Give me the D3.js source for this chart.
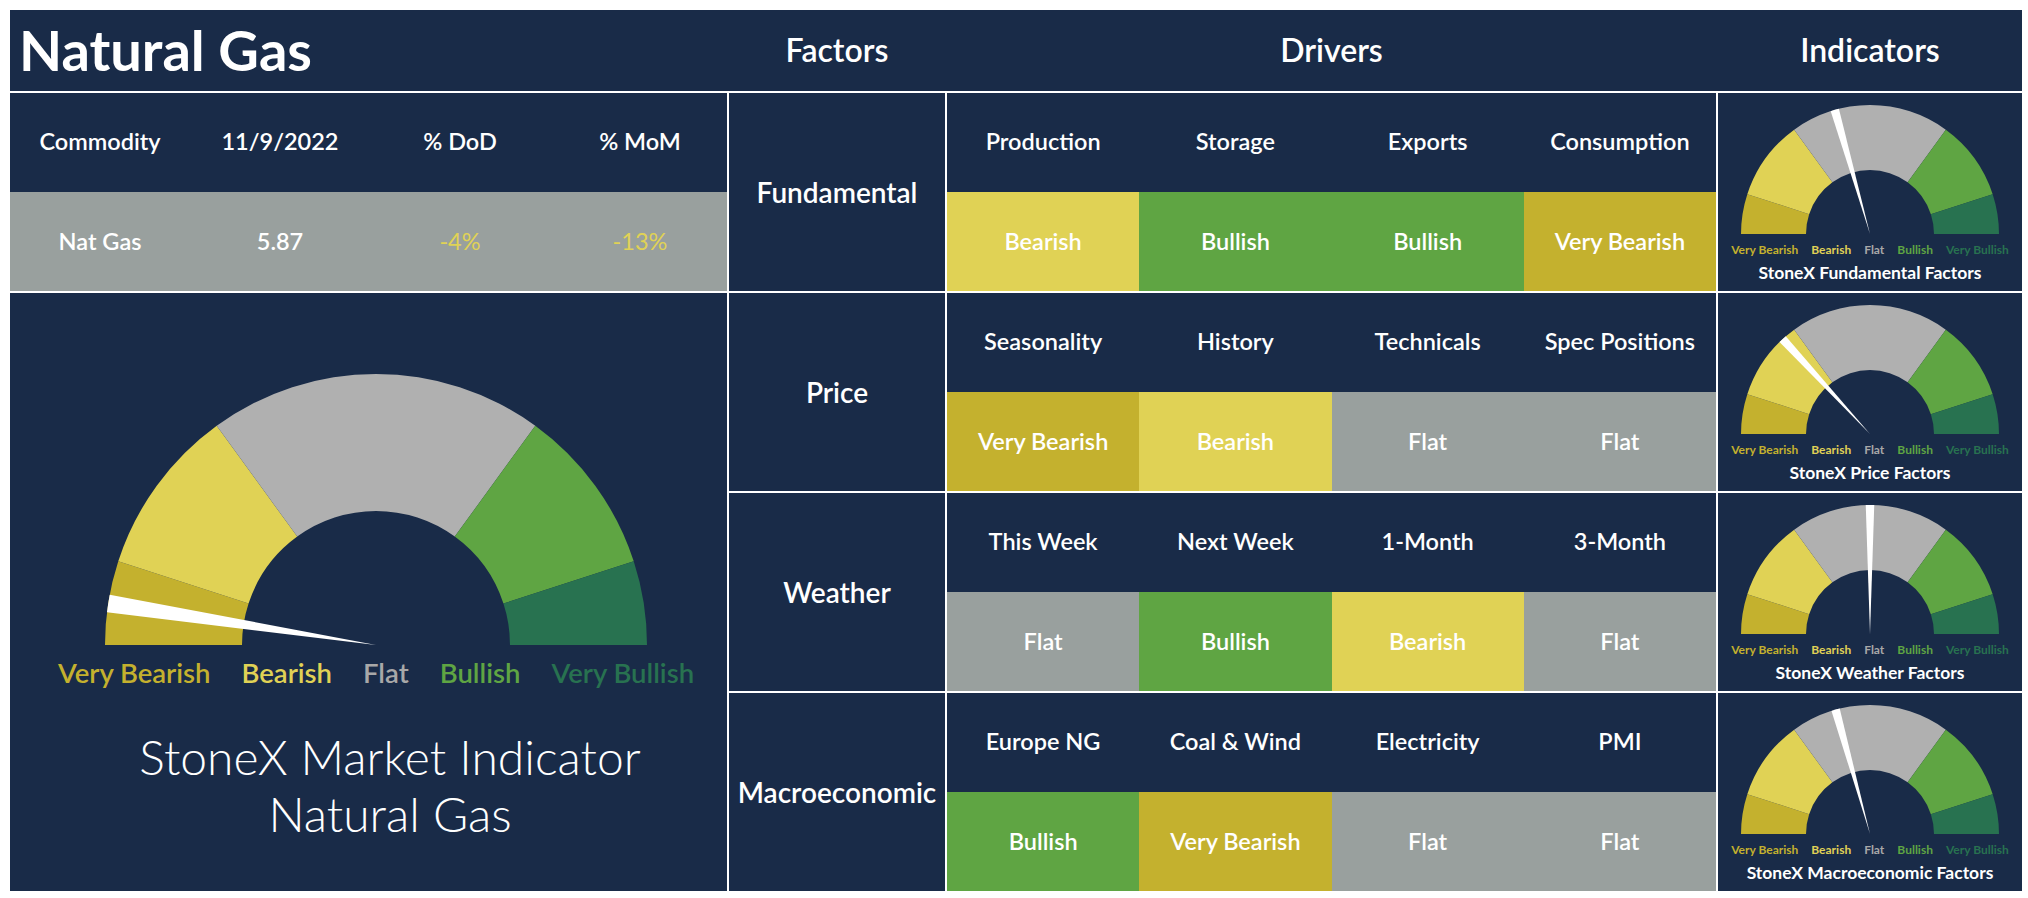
<!DOCTYPE html>
<html>
<head>
<meta charset="utf-8">
<script src="https://cdn.jsdelivr.net/npm/d3@7"></script>
<style>
  body { margin: 0; background: #fff; }
  svg { display: block; font-family: Lato, 'Open Sans', sans-serif; }
</style>
</head>
<body>
<svg id="board"></svg>
<script>
// ---- data ----
const pageTitle = "Natural Gas";
const sectionHeaders = ["Factors", "Drivers", "Indicators"];
const commodityHeaders = ["Commodity", "11/9/2022", "% DoD", "% MoM"];
const commodityValues = ["Nat Gas", "5.87", "-4%", "-13%"];
const factors = ["Fundamental", "Price", "Weather", "Macroeconomic"];
const drivers = [
    ["Production", "Storage", "Exports", "Consumption"],
    ["Seasonality", "History", "Technicals", "Spec Positions"],
    ["This Week", "Next Week", "1-Month", "3-Month"],
    ["Europe NG", "Coal & Wind", "Electricity", "PMI"]
];
const driverSignals = [
    ["Bearish", "Bullish", "Bullish", "Very Bearish"],
    ["Very Bearish", "Bearish", "Flat", "Flat"],
    ["Flat", "Bullish", "Bearish", "Flat"],
    ["Bullish", "Very Bearish", "Flat", "Flat"]
];
const signalLevels = ["Very Bearish", "Bearish", "Flat", "Bullish", "Very Bullish"];
const bandShares = [10, 20, 40, 20, 10];          // gauge bands, % of the half circle
const marketNeedle = 4.9;                         // 0..100 along the gauge
const factorNeedles = [41.2, 26.3, 50, 41.4];
const indicatorTitles = ["StoneX Fundamental Factors", "StoneX Price Factors",
                         "StoneX Weather Factors", "StoneX Macroeconomic Factors"];
const marketTitle = ["StoneX Market Indicator", "Natural Gas"];

// ---- style ----
const W = 2028, H = 898;
const NAVY = "#192b48";
const GRAY = "#99a09e";
const bandColors = ["#c4b12e", "#e0d255", "#b0b0b0", "#5fa543", "#287250"];
const labelColors = ["#c4b12e", "#e0d255", "#a8a8a8", "#5fa543", "#287250"];
const cellColor = d3.scaleOrdinal()
    .domain(signalLevels)
    .range(["#c4b12e", "#e0d255", GRAY, "#5fa543", "#287250"]);

const svg = d3.select("#board").attr("width", W).attr("height", H);
svg.append("rect").attr("width", W).attr("height", H).attr("fill", "#fff");

// layout
const ROW_TOP = 93, ROW_STEP = 200, ROW_H = 198, HALF = 99;
const col = {left: [10, 727], factor: [729, 945], drivers: [947, 1716], ind: [1718, 2022]};
const rowTop = i => ROW_TOP + i * ROW_STEP;

function rect(x0, y0, x1, y1, fill) {
    x0 = Math.round(x0); x1 = Math.round(x1);
    svg.append("rect").attr("x", x0).attr("y", y0)
        .attr("width", x1 - x0).attr("height", y1 - y0).attr("fill", fill)
        .attr("shape-rendering", "crispEdges");
}
function label(x, y, text, size, weight, fill, anchor) {
    return svg.append("text").attr("x", x).attr("y", y)
        .attr("text-anchor", anchor || "middle")
        .style("font-size", size + "px").style("font-weight", weight)
        .attr("fill", fill || "#fff").text(text);
}

// banner
rect(10, 10, 2022, 91, NAVY);
label(19, 71, pageTitle, 56, 700, "#fff", "start");
const headCenters = [col.factor, col.drivers, col.ind].map(c => (c[0] + c[1]) / 2);
sectionHeaders.forEach((t, i) => label(headCenters[i], 62, t, 32, 600));

// commodity table
const cx = d3.scaleBand().domain(d3.range(4)).range([10, 730]);
rect(col.left[0], ROW_TOP, col.left[1], ROW_TOP + HALF, NAVY);
rect(col.left[0], ROW_TOP + HALF, col.left[1], ROW_TOP + ROW_H, GRAY);
commodityHeaders.forEach((t, i) => label(cx(i) + cx.bandwidth() / 2, ROW_TOP + 57, t, 23.5, 600));
commodityValues.forEach((t, i) => label(cx(i) + cx.bandwidth() / 2, ROW_TOP + 157, t, 23.5,
    i < 2 ? 600 : 400, i < 2 ? "#fff" : "#e0d255"));

// factor rows + driver cells
const dx = d3.scaleBand().domain(d3.range(4)).range(col.drivers);
factors.forEach((f, r) => {
    const y = rowTop(r);
    rect(col.factor[0], y, col.factor[1], y + ROW_H, NAVY);
    label(headCenters[0], y + 110, f, 28, 600);
    rect(col.drivers[0], y, col.drivers[1], y + HALF, NAVY);
    drivers[r].forEach((d, c) => {
        rect(dx(c), y + HALF, dx(c) + dx.bandwidth(), y + ROW_H, cellColor(driverSignals[r][c]));
        label(dx(c) + dx.bandwidth() / 2, y + 57, d, 23.5, 600);
        label(dx(c) + dx.bandwidth() / 2, y + 157, driverSignals[r][c], 23.5, 600);
    });
    rect(col.ind[0], y, col.ind[1], y + ROW_H, NAVY);
});

// big market panel
rect(col.left[0], rowTop(1), col.left[1], rowTop(3) + ROW_H, NAVY);

// ---- gauges ----
const needleAngle = d3.scaleLinear().domain([0, 100]).range([-Math.PI / 2, Math.PI / 2]);
const pie = d3.pie().sort(null).startAngle(-Math.PI / 2).endAngle(Math.PI / 2);

function drawGauge(x, y, rOuter, rInner, needle, o) {
    const g = svg.append("g").attr("transform", `translate(${x},${y})`);
    const arc = d3.arc().innerRadius(rInner).outerRadius(rOuter);
    g.selectAll("path.band").data(pie(bandShares)).join("path")
        .attr("class", "band")
        .attr("d", arc)
        .attr("fill", (d, i) => bandColors[i]);
    g.append("path")
        .attr("d", d3.arc()({innerRadius: 0, outerRadius: rOuter,
            startAngle: needleAngle(needle - 1.05), endAngle: needleAngle(needle + 1.05)}))
        .attr("fill", "#fff");

    // legend laid out left to right with a fixed gap, centred under the gauge
    const texts = signalLevels.map((s, i) => g.append("text")
        .attr("y", o.labelDy)
        .style("font-size", o.labelSize + "px").style("font-weight", o.labelWeight)
        .attr("fill", labelColors[i]).text(s));
    const widths = texts.map(t => t.node().getComputedTextLength());
    const total = d3.sum(widths) + o.gap * (widths.length - 1);
    let pos = -total / 2;
    texts.forEach((t, i) => { t.attr("x", pos); pos += widths[i] + o.gap; });
    return g;
}

drawGauge(376, 645, 271, 134, marketNeedle, {labelDy: 38, labelSize: 27.5, labelWeight: 600, gap: 31});
label(390, 775, marketTitle[0], 48, 300);
label(390, 832, marketTitle[1], 48, 300);

factorNeedles.forEach((v, r) => {
    const y = rowTop(r);
    const icx = (col.ind[0] + col.ind[1]) / 2;
    drawGauge(icx, y + 141, 129, 64, v, {labelDy: 20, labelSize: 12, labelWeight: 700, gap: 13});
    label(icx, y + 186, indicatorTitles[r], 17.5, 700);
});
</script>
</body>
</html>
